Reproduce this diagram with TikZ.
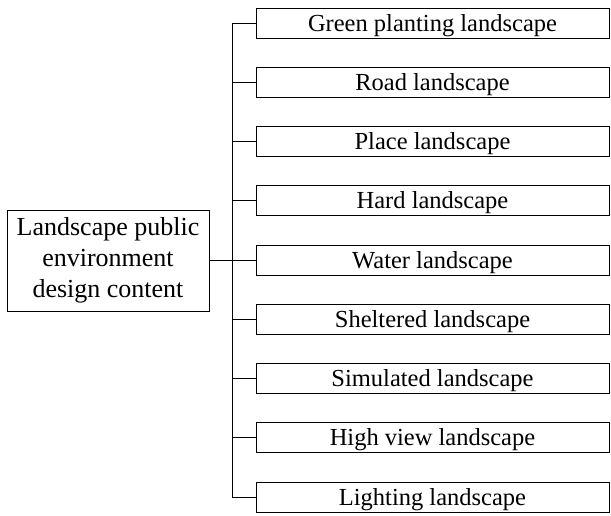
\documentclass[tikz,border=0pt]{standalone}
\usepackage{fontspec}
\setmainfont{Liberation Serif}
\begin{document}
\begin{tikzpicture}[x=1pt,y=-1pt,
  itembox/.style={draw=black, line width=1pt, minimum width=353pt, minimum height=30pt,
    inner sep=0pt, text height=16.2pt, text depth=0pt,
    font=\fontsize{24.5}{29}\selectfont},
  rootbox/.style={draw=black, line width=1pt, minimum width=202pt, minimum height=101pt,
    align=center, inner sep=0pt, font=\fontsize{26}{31}\selectfont},
  link/.style={draw=black, line width=1pt}]
\useasboundingbox (0,0) rectangle (611,515);
\node[rootbox] (root) at (108,260.5) {Landscape public\\environment\\design content};
\foreach \t [count=\i] in {Green planting landscape, Road landscape, Place landscape,
  Hard landscape, Water landscape, Sheltered landscape, Simulated landscape,
  High view landscape, Lighting landscape}{
  \node[itembox] (b\i) at (432.5, {23+59.25*(\i-1)}) {\t};
}
\coordinate (top) at (232,23);
\coordinate (bot) at (232,497);
\draw[link] (top) -- (bot);
\draw[link] (root.east) -- (root.east -| top);
\foreach \i in {1,...,9}{
  \draw[link] (b\i.west -| top) -- (b\i.west);
}
\end{tikzpicture}
\end{document}
